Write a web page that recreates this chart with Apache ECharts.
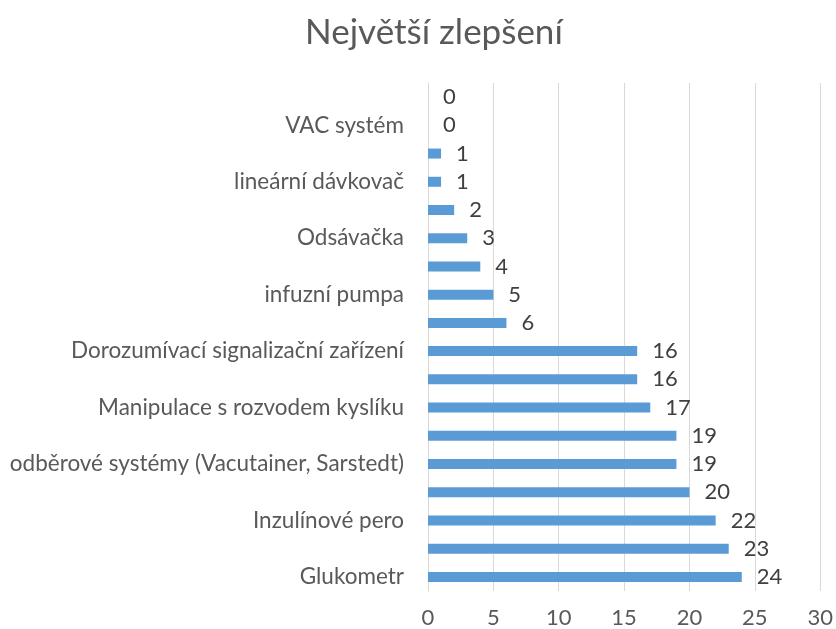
<!DOCTYPE html>
<html><head><meta charset="utf-8">
<script src="https://cdn.jsdelivr.net/npm/echarts@6/dist/echarts.min.js"></script>
<style>html,body{margin:0;padding:0;background:#fff}#c{width:836px;height:629px}</style>
</head><body><div id="c"></div>
<script>
// categories from bottom to top (every second label is hidden as in the reference)
const categories = [
  "Glukometr", "položka 2", "Inzulínové pero", "položka 4",
  "odběrové systémy (Vacutainer, Sarstedt)", "položka 6",
  "Manipulace s rozvodem kyslíku", "položka 8",
  "Dorozumívací signalizační zařízení", "položka 10",
  "infuzní pumpa", "položka 12", "Odsávačka", "položka 14",
  "lineární dávkovač", "položka 16", "VAC systém", "položka 18"
];
const values = [24, 23, 22, 20, 19, 19, 17, 16, 16, 6, 5, 4, 3, 2, 1, 1, 0, 0];
const xTicks = [0, 5, 10, 15, 20, 25, 30];
const titleText = "Největší zlepšení";

const FONT = "Lato";
const chart = echarts.init(document.getElementById('c'));
chart.setOption({
  animation: false,
  title: {
    text: titleText, left: 300, top: 10,
    textStyle: {fontFamily: FONT, fontSize: 35, fontWeight: 'normal', color: '#595959'}
  },
  grid: {left: 428, right: 14, top: 83, bottom: 38},
  xAxis: {
    type: 'value', min: xTicks[0], max: xTicks[xTicks.length - 1], interval: 5,
    axisLine: {show: false}, axisTick: {show: false},
    splitLine: {lineStyle: {color: '#d9d9d9', width: 1}},
    axisLabel: {fontFamily: FONT, fontSize: 22, color: '#595959', margin: 16}
  },
  yAxis: {
    type: 'category', data: categories,
    axisLine: {show: true, lineStyle: {color: '#d9d9d9'}},
    axisTick: {show: false},
    axisLabel: {interval: 1, fontFamily: FONT, fontSize: 22.5, color: '#595959', margin: 24}
  },
  series: [{
    type: 'bar', data: values, barWidth: 10,
    itemStyle: {color: '#5b9bd5'},
    label: {show: true, position: 'right', distance: 15,
      fontFamily: FONT, fontSize: 22, color: '#404040'}
  }]
});
</script></body></html>
